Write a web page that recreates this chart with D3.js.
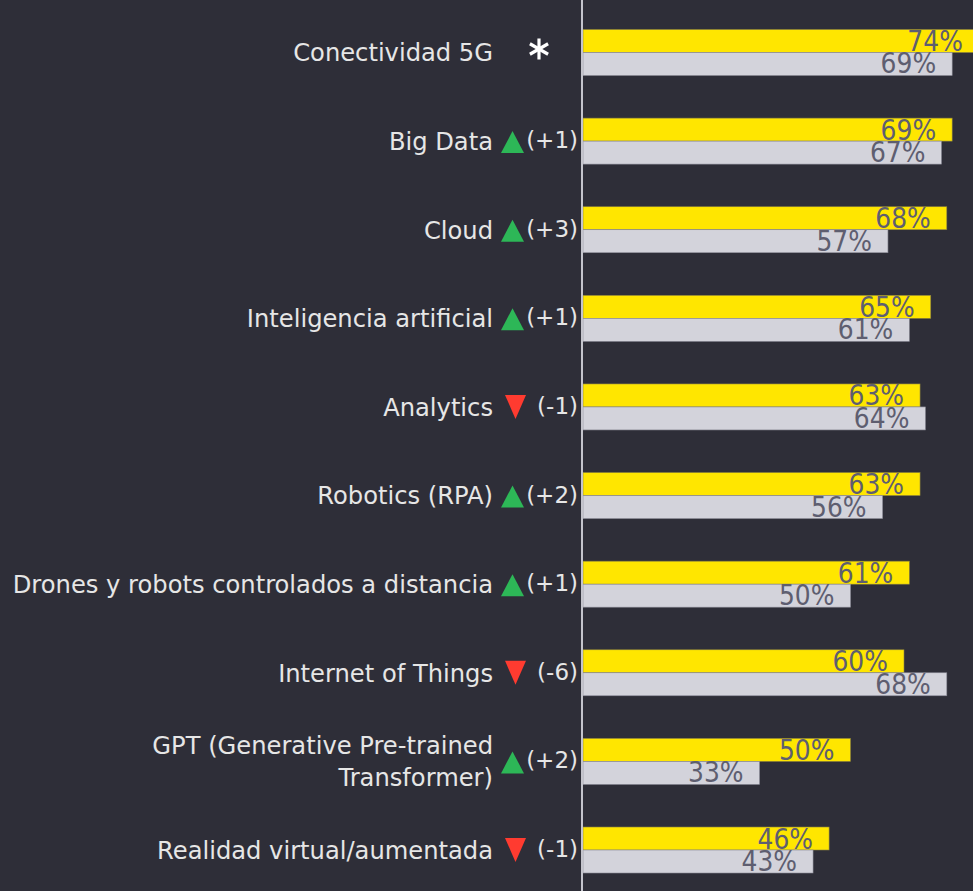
<!DOCTYPE html>
<meta charset="utf-8">
<html>
<script src="https://d3js.org/d3.v7.min.js"></script>
<style>
  body { margin: 0; background: #2e2e38; }
</style>
<div id="chart"></div>
<script>

// data
var categories = ["Conectividad 5G", "Big Data", "Cloud", "Inteligencia artificial", "Analytics",
  "Robotics (RPA)", "Drones y robots controlados a distancia", "Internet of Things",
  "GPT (Generative Pre-trained|Transformer)", "Realidad virtual/aumentada"];
var current = [74, 69, 68, 65, 63, 63, 61, 60, 50, 46];
var previous = [69, 67, 57, 61, 64, 56, 50, 68, 33, 43];
var change = ["*", "(+1)", "(+3)", "(+1)", "(-1)", "(+2)", "(+1)", "(-6)", "(+2)", "(-1)"];
var direction = ["new", "up", "up", "up", "down", "up", "up", "down", "up", "down"];

var width = 973,
    height = 891;

var svg = d3.select("#chart")
  .append("svg")
    .attr("width", width)
    .attr("height", height);

svg.append("rect").attr("width", width).attr("height", height).attr("fill", "#2e2e38");

var x = d3.scaleLinear().domain([0, 100]).range([583, 583 + 535]);

var y = d3.scaleBand()
  .domain(categories)
  .range([29.5, 873])
  .paddingInner(0.481)
  .paddingOuter(0);

var sub = d3.scaleBand().domain(["cur", "prev"]).range([0, y.bandwidth()]);

var rows = categories.map(function(c, i) {
  return {name: c, cur: current[i], prev: previous[i], change: change[i], dir: direction[i]};
});

var g = svg.selectAll(".row")
  .data(rows)
  .enter().append("g")
    .attr("class", "row")
    .attr("transform", function(d) { return "translate(0," + y(d.name) + ")"; });

// bars
g.append("rect")
  .attr("x", x(0))
  .attr("y", sub("cur"))
  .attr("width", function(d) { return x(d.cur) - x(0); })
  .attr("height", sub.bandwidth())
  .attr("fill", "#ffe600")
  .attr("stroke", "#8a8040")
  .attr("stroke-width", 0.6);

g.append("rect")
  .attr("x", x(0))
  .attr("y", sub("prev"))
  .attr("width", function(d) { return x(d.prev) - x(0); })
  .attr("height", sub.bandwidth())
  .attr("fill", "#d3d3db")
  .attr("stroke", "#8a8a96")
  .attr("stroke-width", 0.6);

// value labels (a bit stretched vertically, like the original font)
g.append("text")
  .attr("transform", function(d) {
    return "translate(" + (x(d.cur) - 16) + "," + (sub("cur") + sub.bandwidth() - 1.5) + ") scale(1,1.15)";
  })
  .attr("text-anchor", "end")
  .style("font-family", "DejaVu Sans")
  .style("font-size", "25px")
  .attr("fill", "#5e5e70")
  .text(function(d) { return d.cur + "%"; });

g.append("text")
  .attr("transform", function(d) {
    return "translate(" + (x(d.prev) - 16) + "," + (sub("prev") + sub.bandwidth() - 2) + ") scale(1,1.15)";
  })
  .attr("text-anchor", "end")
  .style("font-family", "DejaVu Sans")
  .style("font-size", "25px")
  .attr("fill", "#5e5e70")
  .text(function(d) { return d.prev + "%"; });

// category labels
var mid = y.bandwidth() / 2;
g.append("text")
  .attr("text-anchor", "end")
  .style("font-family", "DejaVu Sans")
  .style("font-size", "24.2px")
  .attr("fill", "#e6e6e6")
  .each(function(d) {
    var lines = d.name.split("|");
    var t = d3.select(this);
    var lh = 32;
    lines.forEach(function(l, k) {
      t.append("tspan")
        .attr("x", 493)
        .attr("y", mid + 8.8 + (k - (lines.length - 1) / 2) * lh)
        .text(l);
    });
  });

// change markers
g.filter(function(d) { return d.dir == "up"; })
  .append("path")
  .attr("d", "M0,-11L11.5,11L-11.5,11Z")
  .attr("transform", "translate(512.5," + (mid + 1) + ")")
  .attr("fill", "#2db757");

g.filter(function(d) { return d.dir == "down"; })
  .append("path")
  .attr("d", "M-10.5,-12L10.5,-12L0,12Z")
  .attr("transform", "translate(515.5," + (mid) + ")")
  .attr("fill", "#ff3b30");

g.filter(function(d) { return d.dir != "new"; })
  .append("text")
  .attr("x", 578)
  .attr("y", mid + 7)
  .attr("text-anchor", "end")
  .style("font-family", "DejaVu Sans")
  .style("font-size", "23px")
  .attr("fill", "#e6e6e6")
  .text(function(d) { return d.change; });

// asterisk for new entry
var star = g.filter(function(d) { return d.dir == "new"; })
  .append("g")
  .attr("transform", "translate(539," + (mid - 3.5) + ")");
[90, 30, 150].forEach(function(a) {
  var r = 10.5, rad = a * Math.PI / 180;
  star.append("line")
    .attr("x1", -r * Math.cos(rad)).attr("y1", -r * Math.sin(rad))
    .attr("x2", r * Math.cos(rad)).attr("y2", r * Math.sin(rad))
    .attr("stroke", "#ffffff")
    .attr("stroke-width", 3.2);
});

// axis line
svg.append("line")
  .attr("x1", x(0) - 1).attr("x2", x(0) - 1)
  .attr("y1", 0).attr("y2", height)
  .attr("stroke", "#c4c4cc")
  .attr("stroke-width", 2);

</script>
</html>
